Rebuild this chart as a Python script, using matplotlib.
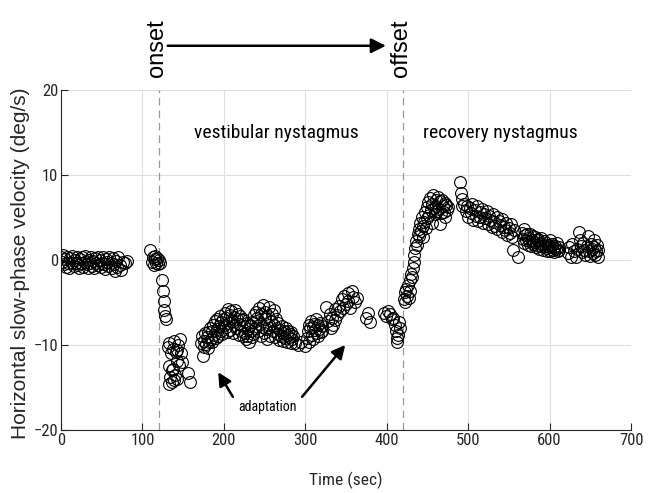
import numpy as np
import matplotlib
matplotlib.use('Agg')
import matplotlib.pyplot as plt

# ---- DATA ----
# pre-rotation baseline
tA = [0, 1, 2.5, 3.5, 5, 6, 7.5, 9, 10, 11.5, 13, 14, 15.5, 17, 18, 19.5, 21, 22, 23.5, 25,
      26, 27.5, 29, 30, 31.5, 33, 34, 35.5, 37, 38, 39.5, 41, 42, 43.5, 45, 46, 47.5, 49, 50, 51.5,
      53, 54, 55.5, 57, 58, 59.5, 61, 62, 63.5, 65, 66, 67.5, 69, 70, 72, 74, 76, 79, 81]
vA = [0.3, -0.2, 0.6, -0.5, 0.1, -0.8, 0.4, -0.3, -0.9, 0.2, -0.4, 0.5, -0.7, 0.0, -0.3, 0.4, -0.6, -1.0, 0.1, -0.4,
      0.3, -0.8, -0.2, 0.5, -0.5, -1.0, 0.0, -0.3, 0.3, -0.7, -0.1, -0.9, 0.2, -0.4, 0.4, -0.6, 0.0, -0.8, -0.3, 0.3,
      -0.5, -1.1, 0.1, -0.2, -0.7, 0.4, -0.4, -0.9, 0.2, -0.5, -1.3, -0.1, -0.8, 0.3, -0.6, -1.2, -0.2, -0.4, -0.1]

# around onset
tB = [109, 112, 113, 114, 115, 116, 117, 118, 119, 120, 121]
vB = [1.2, -0.2, 0.3, -0.6, 0.1, 0.5, -0.3, 0.2, -0.5, 0.0, -0.4]

# fast descent
tC = [124, 125, 126, 127, 128, 129]
vC = [-2.4, -3.6, -4.8, -5.9, -6.6, -7.0]

# peak of vestibular nystagmus
tD = [131, 132, 133, 134, 135, 136, 137, 138, 139, 140, 141, 142, 143, 144, 145, 146, 147, 148, 156, 158,
      133, 136, 139, 142]
vD = [-10.2, -12.5, -9.8, -13.8, -11.0, -14.3, -10.5, -12.8, -9.5, -13.5, -10.8, -11.9, -14.0, -10.0, -12.3,
      -9.3, -11.0, -12.0, -13.3, -14.3, -14.6, -13.0, -14.1, -10.6]

# adaptation phase
tE1 = [172, 173, 174, 175, 176, 177, 178, 179, 180, 181, 182, 183, 184, 185, 186, 187, 188, 189, 190, 191,
       192, 193, 194, 195, 196, 197, 198, 199, 200]
vE1 = [-9.8, -9.0, -11.3, -9.5, -10.2, -8.6, -9.9, -9.1, -10.4, -8.5, -9.6, -8.0, -9.3, -8.4, -9.7, -7.6,
       -8.8, -7.2, -9.2, -8.1, -7.0, -8.9, -7.8, -6.6, -8.4, -7.3, -8.7, -6.9, -7.7]
tE2 = [201, 202, 203, 204, 205, 206, 207, 208, 209, 210, 211, 212, 213, 214, 215, 216, 217, 218, 219, 220,
       221, 222, 223, 224, 225, 226, 227, 228, 229, 230, 231, 232, 233, 234, 235, 236, 237, 238, 239, 240]
vE2 = [-6.2, -7.9, -6.8, -8.5, -5.8, -7.4, -6.5, -8.2, -6.0, -7.2, -8.6, -6.7, -7.6, -5.9, -8.0, -7.0, -6.3,
       -8.8, -7.5, -6.6, -8.3, -7.1, -9.0, -6.9, -7.8, -8.6, -9.3, -7.4, -8.9, -8.1, -9.6, -7.7, -8.4, -9.1,
       -7.3, -8.7, -6.5, -8.0, -7.2, -6.1]
tE3 = [241, 242, 243, 244, 245, 246, 247, 248, 249, 250, 251, 252, 253, 254, 255, 256, 257, 258, 259, 260,
       261, 262, 263, 264, 265, 266, 267, 268, 269, 270, 271, 272, 273, 274, 275, 276, 277, 278, 279, 280,
       281, 282, 283, 284, 285]
vE3 = [-6.8, -8.4, -5.6, -7.5, -9.0, -6.3, -7.9, -5.3, -8.6, -7.0, -6.1, -8.1, -9.3, -6.6, -7.7, -5.5, -8.9,
       -7.2, -6.4, -8.3, -5.9, -7.6, -9.1, -6.9, -8.0, -7.4, -8.7, -9.4, -8.2, -9.0, -7.8, -8.6, -9.5, -8.4,
       -9.2, -8.0, -8.8, -9.6, -8.3, -9.1, -8.7, -9.8, -8.5, -9.3, -8.9]
tE4 = [287, 291, 295, 299]
vE4 = [-9.8, -10.0, -9.6, -10.1]
tE5 = [302, 303, 304, 305, 306, 307, 308, 309, 310, 311, 312, 313, 314, 315, 316, 317, 318, 319, 320, 321]
vE5 = [-9.2, -8.4, -7.6, -9.6, -8.0, -7.2, -8.8, -7.9, -9.3, -7.5, -8.2, -6.9, -8.6, -7.7, -9.0, -8.1, -7.4,
       -8.5, -7.8, -8.3]
tE6 = [326, 328, 330, 331, 333, 334, 336, 337, 339, 341, 343, 345, 346, 348, 350, 352, 353, 355, 357, 359,
       361, 363]
vE6 = [-5.5, -7.2, -6.3, -8.0, -6.8, -7.6, -5.8, -7.1, -6.5, -5.4, -6.0, -4.6, -5.7, -4.2, -5.2, -4.8, -3.9,
       -5.6, -3.7, -4.4, -4.9, -4.5]
tE7 = [374, 377, 379]
vE7 = [-6.8, -6.2, -7.3]
tE8 = [397, 399, 402, 404, 406, 408, 410, 411, 412, 413, 414, 415, 416]
vE8 = [-6.2, -6.6, -6.0, -6.4, -7.0, -6.8, -7.6, -8.4, -9.2, -9.7, -8.8, -7.3, -8.0]

# recovery nystagmus
tF1 = [421, 422, 423, 424, 425, 426, 427, 428, 429, 430, 431]
vF1 = [-4.6, -3.8, -4.9, -3.4, -4.2, -3.0, -4.5, -2.4, -3.6, -1.6, -2.0]
tF2 = [432, 433, 434, 435, 436, 437, 438, 439, 440, 441, 442, 443, 444, 445]
vF2 = [-0.9, -0.2, 0.6, 1.4, 2.2, 1.8, 3.0, 3.6, 2.8, 4.3, 3.4, 5.0, 4.0, 2.7]
tF3 = [446, 447, 448, 449, 450, 451, 452, 453, 454, 455, 456, 457, 458, 459, 460, 461, 462, 463, 464, 465,
       466, 467, 468, 469, 470, 471, 472, 473, 474, 475]
vF3 = [4.5, 5.6, 3.8, 6.2, 4.9, 6.8, 5.3, 7.3, 5.9, 6.6, 4.4, 7.6, 6.1, 5.4, 7.0, 6.4, 5.8, 7.4, 6.0, 4.2,
       6.9, 5.5, 7.1, 6.3, 5.7, 6.7, 5.0, 6.5, 5.9, 6.2]
tG1 = [490, 491, 492, 493, 495]
vG1 = [9.2, 7.9, 6.3, 7.2, 6.6]
tG2 = [497, 499, 500, 502, 503, 505, 506, 508, 509, 511, 512, 514, 515, 517, 518, 520, 521, 523, 524, 526,
       527, 529, 530, 532, 533, 535, 536, 538, 539, 541, 542, 544, 545, 547, 548, 550, 551, 553, 554, 556]
vG2 = [5.8, 6.4, 5.0, 6.1, 5.5, 6.6, 4.7, 5.9, 5.2, 6.3, 4.6, 5.7, 5.1, 6.0, 4.4, 5.4, 4.9, 5.8, 4.2, 5.2,
       4.7, 3.9, 5.4, 4.5, 4.0, 5.0, 3.6, 4.6, 4.1, 3.3, 4.8, 3.9, 3.5, 4.3, 2.9, 3.8, 3.2, 4.2, 2.7, 3.5]
tG3 = [555, 561]
vG3 = [1.2, 0.4]
tH = [566, 567, 568, 569, 570, 571, 572, 573, 574, 575, 576, 577, 578, 579, 580, 581, 582, 583, 584, 585,
      586, 587, 588, 589, 590, 591, 592, 593, 594, 595, 596, 597, 598, 599, 600, 601, 602, 603, 604, 605,
      606, 607, 608, 609, 610, 611, 612]
vH = [3.2, 2.5, 3.6, 2.0, 2.9, 2.3, 3.1, 1.8, 2.6, 2.2, 3.0, 1.6, 2.4, 2.8, 1.9, 2.1, 2.7, 1.5, 2.3, 1.8,
      2.5, 1.3, 2.0, 2.6, 1.6, 1.9, 1.2, 2.2, 1.7, 1.4, 2.0, 1.1, 1.8, 1.5, 2.3, 1.0, 1.6, 1.9, 1.2, 1.4,
      0.9, 1.7, 1.3, 2.0, 1.1, 1.5, 1.2]
tI = [622, 624, 626, 628, 630, 632, 634, 636, 637, 638, 640, 641, 642, 644, 646, 647, 648, 650, 651, 652,
      653, 654, 655, 656, 657, 658, 659, 660]
vI = [0.8, 1.5, 0.3, 1.9, 1.0, 0.4, 1.3, 3.3, 2.4, 1.6, 0.9, 2.0, 1.2, 0.6, 1.7, 2.8, 1.1, 0.5, 1.9, 1.3,
      0.8, 2.3, 1.5, 0.6, 1.0, 1.8, 0.4, 1.2]

onset_t, offset_t = 120, 420
xticks = [0, 100, 200, 300, 400, 500, 600, 700]
yticks = [-20, -10, 0, 10, 20]

t = np.concatenate([tA, tB, tC, tD, tE1, tE2, tE3, tE4, tE5, tE6, tE7, tE8,
                    tF1, tF2, tF3, tG1, tG2, tG3, tH, tI])
v = np.concatenate([vA, vB, vC, vD, vE1, vE2, vE3, vE4, vE5, vE6, vE7, vE8,
                    vF1, vF2, vF3, vG1, vG2, vG3, vH, vI])

# ---- PLOT ----
NARROW = ['Roboto Condensed', 'Archivo Narrow', 'PT Sans Narrow', 'Liberation Sans Narrow', 'DejaVu Sans']
WIDE = ['Liberation Sans', 'DejaVu Sans']
plt.rcParams['font.family'] = NARROW
fig = plt.figure(figsize=(6.54, 4.93), dpi=100)
ax = fig.add_axes([0.0933, 0.1278, 0.8716, 0.6897])

ax.plot(t, v, 'o', mfc='none', mec='k', ms=8.5, mew=0.8, ls='none', zorder=3)

ax.set_xlim(0, 700)
ax.set_ylim(-20, 20)
ax.set_xticks(xticks)
ax.set_yticks(yticks)
ax.grid(True, color='0.88', lw=0.8)
ax.set_axisbelow(True)
for s in ['top', 'right']:
    ax.spines[s].set_visible(False)
for s in ['left', 'bottom']:
    ax.spines[s].set_color('0.15')
    ax.spines[s].set_linewidth(0.8)
ax.tick_params(direction='in', length=5, width=0.8, labelsize=12, colors='0.15', pad=2)

# onset / offset markers
for xx in (onset_t, offset_t):
    ax.axvline(xx, color='0.6', lw=0.9, ls=(0, (6, 4)), zorder=2)
ax.text(118, 21.5, 'onset', rotation=90, ha='center', va='bottom', fontsize=17,
        family=WIDE, clip_on=False)
ax.text(417, 21.5, 'offset', rotation=90, ha='center', va='bottom', fontsize=17,
        family=WIDE, clip_on=False)
ax.annotate('', xy=(399, 25.2), xytext=(131, 25.2), annotation_clip=False,
            arrowprops=dict(arrowstyle='-|>', lw=1.8, color='k', mutation_scale=22,
                            shrinkA=0, shrinkB=0))

# phase labels
ax.text(264, 14.9, 'vestibular nystagmus', ha='center', va='center', fontsize=14)
ax.text(539, 14.9, 'recovery nystagmus', ha='center', va='center', fontsize=14)
ax.text(253, -17.3, 'adaptation', ha='center', va='center', fontsize=10)
ax.annotate('', xy=(193, -13.2), xytext=(211, -16.1),
            arrowprops=dict(arrowstyle='-|>', lw=1.8, color='k', mutation_scale=20,
                            shrinkA=0, shrinkB=0))
ax.annotate('', xy=(349, -10.0), xytext=(296, -16.1),
            arrowprops=dict(arrowstyle='-|>', lw=1.8, color='k', mutation_scale=20,
                            shrinkA=0, shrinkB=0))

# axis labels
fig.text(346 / 654, 1 - 480 / 493, 'Time (sec)', ha='center', va='center', fontsize=12.5,
         color='0.15')
fig.text(21 / 654, 1 - 263 / 493, 'Horizontal slow-phase velocity (deg/s)', rotation=90,
         ha='center', va='center', fontsize=15, color='0.15', family=WIDE)

fig.savefig('out.png', dpi=100)
